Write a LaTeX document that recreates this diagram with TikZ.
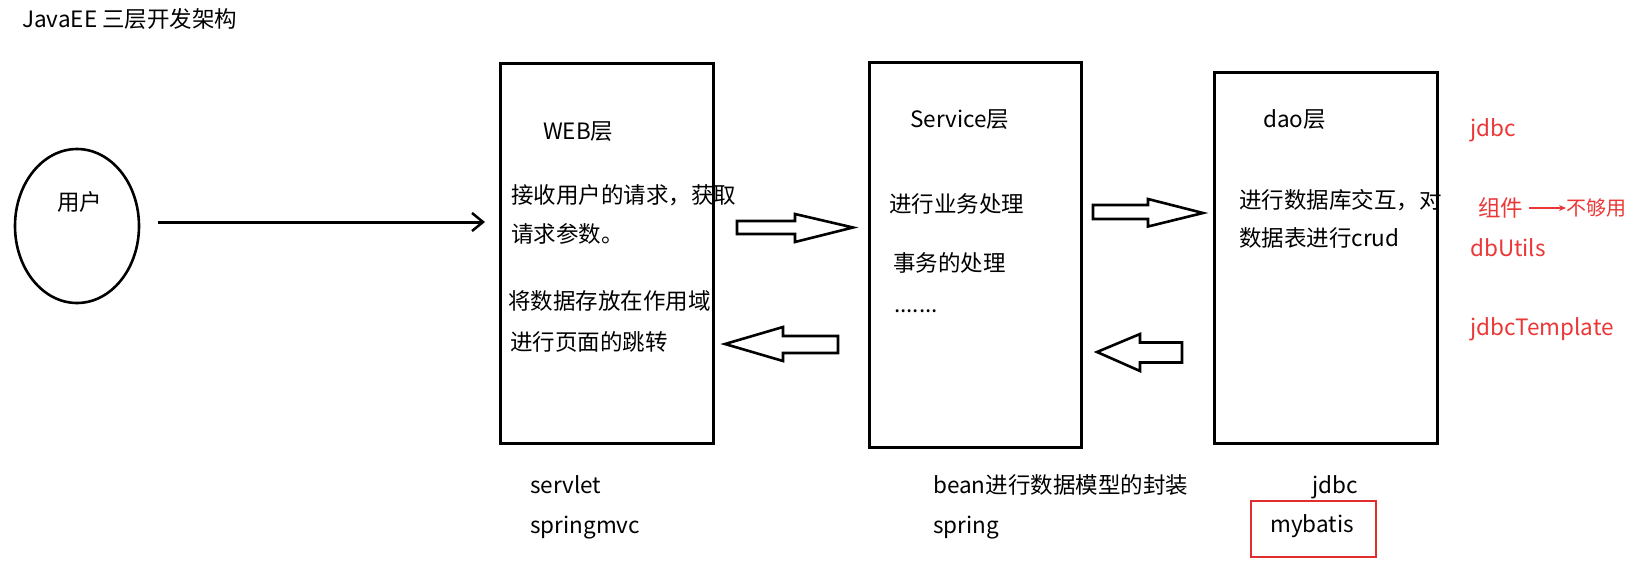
\documentclass[tikz,border=0pt]{standalone}
\usepackage{fontspec}
\setmainfont{Noto Sans CJK SC}
\usetikzlibrary{arrows.meta,shapes.geometric}
\definecolor{redtxt}{RGB}{235,55,55}
\definecolor{redbox}{RGB}{225,45,45}
\tikzset{
  txt/.style={anchor=base west, inner sep=0pt, font=\fontsize{22.5}{27}\selectfont},
  rtxt/.style={txt, text=redtxt},
  layer/.style={draw, line width=3.2pt, inner sep=0pt, anchor=north west},
  hollow/.style={draw, line width=2.6pt, line join=miter, fill=white},
}
\begin{document}
\begin{tikzpicture}[x=1pt, y=-1pt]
\useasboundingbox (0,0) rectangle (1637,574);
\fill[white] (0,0) rectangle (1637,574);

% title
\node[txt] (title) at (22,27) {JavaEE 三层开发架构};

% user
\node[draw, ellipse, line width=2.6pt, minimum width=124pt, minimum height=154pt, inner sep=0pt] (user) at (77,226) {};
\node[txt] (usertxt) at (57,210) {用户};
\coordinate (reqs) at (158,222);
\coordinate (reqe) at (485,222);
\draw[line width=3pt, -{Straight Barb[length=11pt, width=18pt, line width=2.5pt]}] (reqs) -- (reqe);

% layer boxes
\node[layer, minimum width=213pt, minimum height=380pt] (web) at (499,62) {};
\node[layer, minimum width=212pt, minimum height=385pt] (svc) at (868,61) {};
\node[layer, minimum width=223pt, minimum height=371pt] (dao) at (1213,71) {};

% web texts
\node[txt] (webt) at (543,139) {WEB层};
\node[txt] (web1) at (511,203) {接收用户的请求，获取};
\node[txt] (web2) at (511,242) {请求参数。};
\node[txt] (web3) at (508,309) {将数据存放在作用域};
\node[txt] (web4) at (510,350) {进行页面的跳转};

% service texts
\node[txt] (svct) at (910,127) {Service层};
\node[txt] (svc1) at (889,212) {进行业务处理};
\node[txt] (svc2) at (893,271) {事务的处理};
\node[txt] (svc3) at (894,312) {.......};

% dao texts
\node[txt] (daot) at (1263,127) {dao层};
\node[txt] (dao1) at (1239,208) {进行数据库交互，对};
\node[txt] (dao2) at (1239,246) {数据表进行crud};

% hollow arrows
\draw[hollow] (737,221) -- (795,221) -- (795,214) -- (853,227.5) -- (795,242) -- (795,234) -- (737,234) -- cycle;
\draw[hollow] (1093,205) -- (1148,205) -- (1148,199) -- (1203,213) -- (1148,226.5) -- (1148,219) -- (1093,219) -- cycle;
\draw[hollow] (838,336) -- (783,336) -- (783,327) -- (725,344) -- (783,361) -- (783,353) -- (838,353) -- cycle;
\draw[hollow] (1182,342.5) -- (1140,342.5) -- (1140,334) -- (1097,352) -- (1140,371) -- (1140,362.5) -- (1182,362.5) -- cycle;

% red notes
\node[rtxt] (r1) at (1470,136) {jdbc};
\node[rtxt] (r2) at (1478,216) {组件};
\node[rtxt, font=\fontsize{20}{24}\selectfont] (r3) at (1566,215) {不够用};
\draw[redtxt, line width=1.6pt, -{Stealth[length=7pt, width=6pt]}] (r2.east |- 0,208) ++(6,0) -- (r3.west |- 0,208);
\node[rtxt] (r4) at (1470,256) {dbUtils};
\node[rtxt] (r5) at (1470,335) {jdbcTemplate};

% bottom texts
\node[txt] (b1) at (530,493) {servlet};
\node[txt] (b2) at (530,533) {springmvc};
\node[txt] (b3) at (933,493) {bean进行数据模型的封装};
\node[txt] (b4) at (933,533) {spring};
\node[txt] (b5) at (1312,493) {jdbc};
\node[txt] (b6) at (1270,532) {mybatis};
\draw[redbox, line width=2.6pt] (1251,501) rectangle (1376,557);
\end{tikzpicture}
\end{document}
